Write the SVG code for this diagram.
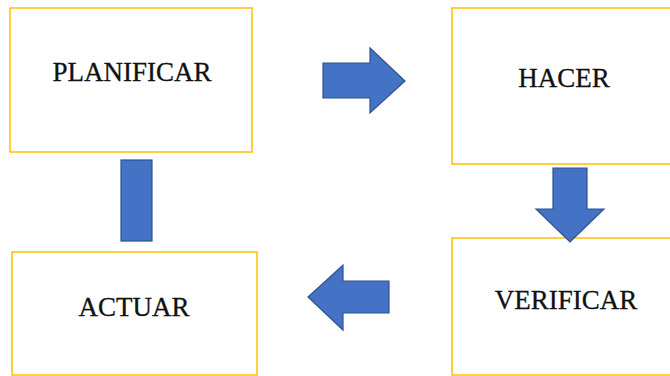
<svg xmlns="http://www.w3.org/2000/svg" width="670" height="376" viewBox="0 0 670 376">
  <style>
    .box { fill: #FFFFFF; stroke: #FFC000; stroke-width: 1.5; }
    .label { font-family: "Liberation Serif", "Times New Roman", serif; font-size: 27px; fill: #111111; stroke: #111111; stroke-width: 0.3; text-anchor: middle; }
    .arrow { fill: #4472C4; stroke: #2F528F; stroke-width: 1.2; stroke-linejoin: miter; }
  </style>
  <rect width="670" height="376" fill="#FFFFFF"/>

  <g id="planificar">
    <rect class="box" x="10" y="8" width="242" height="144"/>
    <text class="label" x="132" y="81">PLANIFICAR</text>
  </g>

  <g id="hacer">
    <rect class="box" x="452" y="8" width="222" height="156"/>
    <text class="label" x="564" y="87">HACER</text>
  </g>

  <g id="verificar">
    <rect class="box" x="452" y="238" width="222" height="137"/>
    <text class="label" x="566" y="309">VERIFICAR</text>
  </g>

  <g id="actuar">
    <rect class="box" x="12" y="252" width="245" height="123"/>
    <text class="label" x="134" y="316">ACTUAR</text>
  </g>

  <g id="connectors">
    <!-- planificar to hacer -->
    <polygon class="arrow" points="323,63 370,63 370,48 405,81 370,113 370,98 323,98"/>
    <!-- hacer to verificar -->
    <polygon class="arrow" points="553,168 587,168 587,209 604,209 570,242 536,209 553,209"/>
    <!-- verificar to actuar -->
    <polygon class="arrow" points="389,281 343,281 343,265 308,297 343,330 343,313 389,313"/>
    <!-- actuar to planificar -->
    <rect class="arrow" x="121" y="160" width="31" height="81"/>
  </g>
</svg>
